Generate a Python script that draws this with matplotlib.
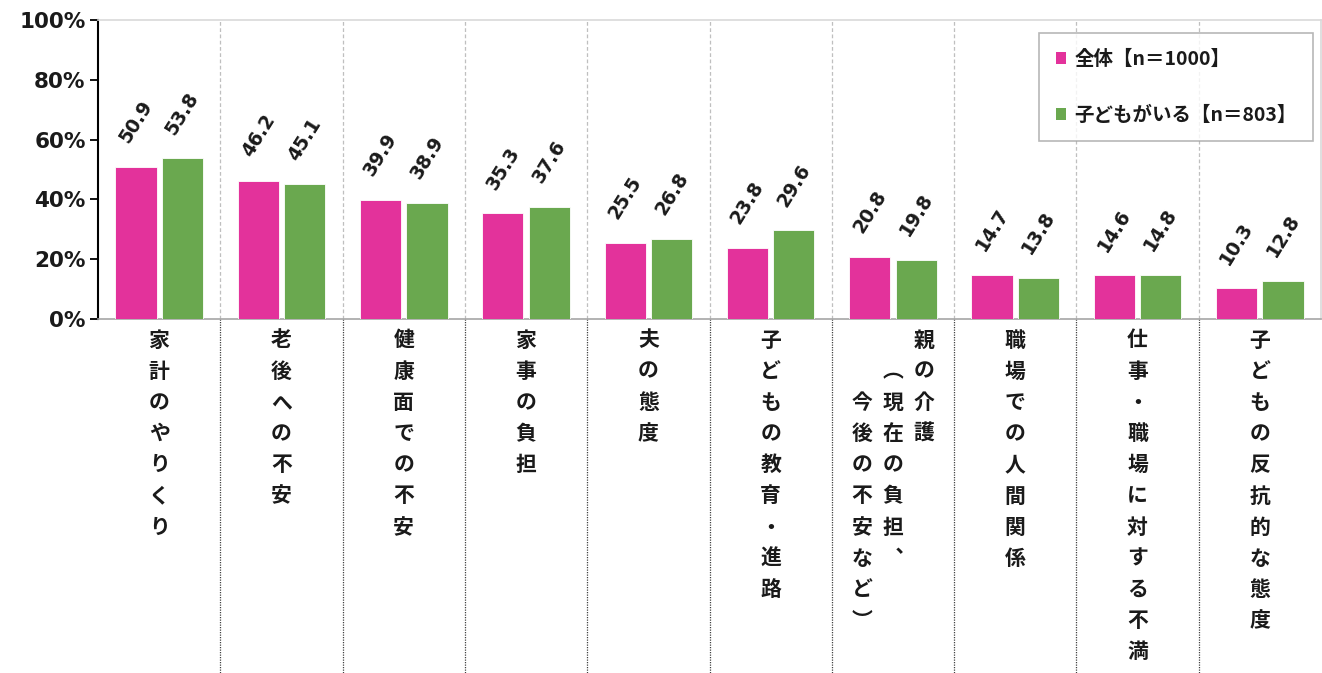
import matplotlib
matplotlib.use("Agg")
import matplotlib.pyplot as plt
from matplotlib.patches import Patch
from matplotlib.lines import Line2D
import matplotlib.transforms as mtransforms

plt.rcParams['font.family'] = ['Noto Sans CJK JP', 'DejaVu Sans']

# ---- data ----
categories = [
    "家計のやりくり",
    "老後への不安",
    "健康面での不安",
    "家事の負担",
    "夫の態度",
    "子どもの教育・進路",
    "親の介護（現在の負担、今後の不安など）",
    "職場での人間関係",
    "仕事・職場に対する不満",
    "子どもの反抗的な態度",
]
# vertical label columns (right-to-left), with starting row for each column
label_columns = [
    [("家計のやりくり", 0)],
    [("老後への不安", 0)],
    [("健康面での不安", 0)],
    [("家事の負担", 0)],
    [("夫の態度", 0)],
    [("子どもの教育・進路", 0)],
    [("親の介護", 0), ("︵現在の負担︑", 1), ("今後の不安など︶", 2)],
    [("職場での人間関係", 0)],
    [("仕事・職場に対する不満", 0)],
    [("子どもの反抗的な態度", 0)],
]
series_names = ["全体【n＝1000】", "子どもがいる【n＝803】"]
values_all = [50.9, 46.2, 39.9, 35.3, 25.5, 23.8, 20.8, 14.7, 14.6, 10.3]
values_kids = [53.8, 45.1, 38.9, 37.6, 26.8, 29.6, 19.8, 13.8, 14.8, 12.8]
yticks = [0, 20, 40, 60, 80, 100]
ytick_labels = ["0%", "20%", "40%", "60%", "80%", "100%"]

colors = ["#E3329B", "#6AA84F"]

W, H = 1322, 673
fig = plt.figure(figsize=(W / 100, H / 100), dpi=100)
ax_left, ax_right, ax_top, ax_bottom = 98, 1321, 20, 319
ax = fig.add_axes([ax_left / W, (H - ax_bottom) / H,
                   (ax_right - ax_left) / W, (ax_bottom - ax_top) / H])

n = len(categories)
x = list(range(n))
bw = 0.337
off = 0.19
bars1 = ax.bar([i - off for i in x], values_all, width=bw, color=colors[0],
               edgecolor="white", linewidth=0.6, zorder=3)
bars2 = ax.bar([i + off for i in x], values_kids, width=bw, color=colors[1],
               edgecolor="white", linewidth=0.6, zorder=3)

ax.set_xlim(-0.5, n - 0.5)
ax.set_ylim(0, 100)
ax.set_yticks(yticks)
ax.set_yticklabels(ytick_labels, fontsize=15.5, fontweight="bold", family="DejaVu Sans",
                   color="#1a1a1a")
ax.set_xticks([])
ax.tick_params(axis="y", length=6, width=1.3, direction="out", pad=3)

for s in ["top", "right"]:
    ax.spines[s].set_color("#D9D9D9")
    ax.spines[s].set_linewidth(1.2)
ax.spines["left"].set_color("black")
ax.spines["left"].set_linewidth(1.5)
ax.spines["bottom"].set_color("#A6A6A6")
ax.spines["bottom"].set_linewidth(1.2)

# separators
trans = mtransforms.blended_transform_factory(ax.transData, ax.transAxes)
below = -(H - ax_bottom) / (ax_bottom - ax_top)
for i in range(n - 1):
    xv = i + 0.5
    ax.plot([xv, xv], [0, 1], transform=trans, color="#BFBFBF",
            linestyle=(0, (3, 2)), linewidth=0.9, zorder=1)
    ax.add_line(Line2D([xv, xv], [0, below], transform=trans, color="#404040",
                       linestyle=(0, (1, 1)), linewidth=0.9, clip_on=False))

# data labels
for bars, vals in ((bars1, values_all), (bars2, values_kids)):
    for b, v in zip(bars, vals):
        ax.annotate(f"{v:.1f}", xy=(b.get_x() + b.get_width() / 2, v),
                    xytext=(0, 45), textcoords="offset pixels",
                    ha="center", va="center", rotation=58,
                    rotation_mode="anchor", fontsize=13.5, fontweight="bold",
                    family="DejaVu Sans", color="#1a1a1a")

# vertical category labels
row_step = 31.2
col_step = 31
for i, cols in enumerate(label_columns):
    ncol = len(cols)
    for c, (txt, start) in enumerate(cols):
        dx = ((ncol - 1) / 2 - c) * col_step
        for r, ch in enumerate(txt):
            ax.annotate(ch, xy=(i, 0), xycoords=trans,
                        xytext=(dx, -(21 + (start + r) * row_step)),
                        textcoords="offset pixels", ha="center", va="center",
                        fontsize=15, fontweight="bold", color="#1a1a1a",
                        annotation_clip=False)

# legend
handles = [Patch(facecolor=colors[0], edgecolor="none"),
           Patch(facecolor=colors[1], edgecolor="none")]
leg = ax.legend(handles, series_names, loc="upper right",
                bbox_to_anchor=((1313 - ax_left) / (ax_right - ax_left),
                                (ax_bottom - 33) / (ax_bottom - ax_top)),
                frameon=True, fancybox=False, edgecolor="#A6A6A6",
                handlelength=0.55, handleheight=0.55, handletextpad=0.4,
                labelspacing=1.9, borderpad=0.85, borderaxespad=0,
                prop={"size": 14, "weight": "bold"})
leg.get_frame().set_linewidth(1.2)
for t in leg.get_texts():
    t.set_color("#1a1a1a")

fig.savefig("out.png", dpi=100)
